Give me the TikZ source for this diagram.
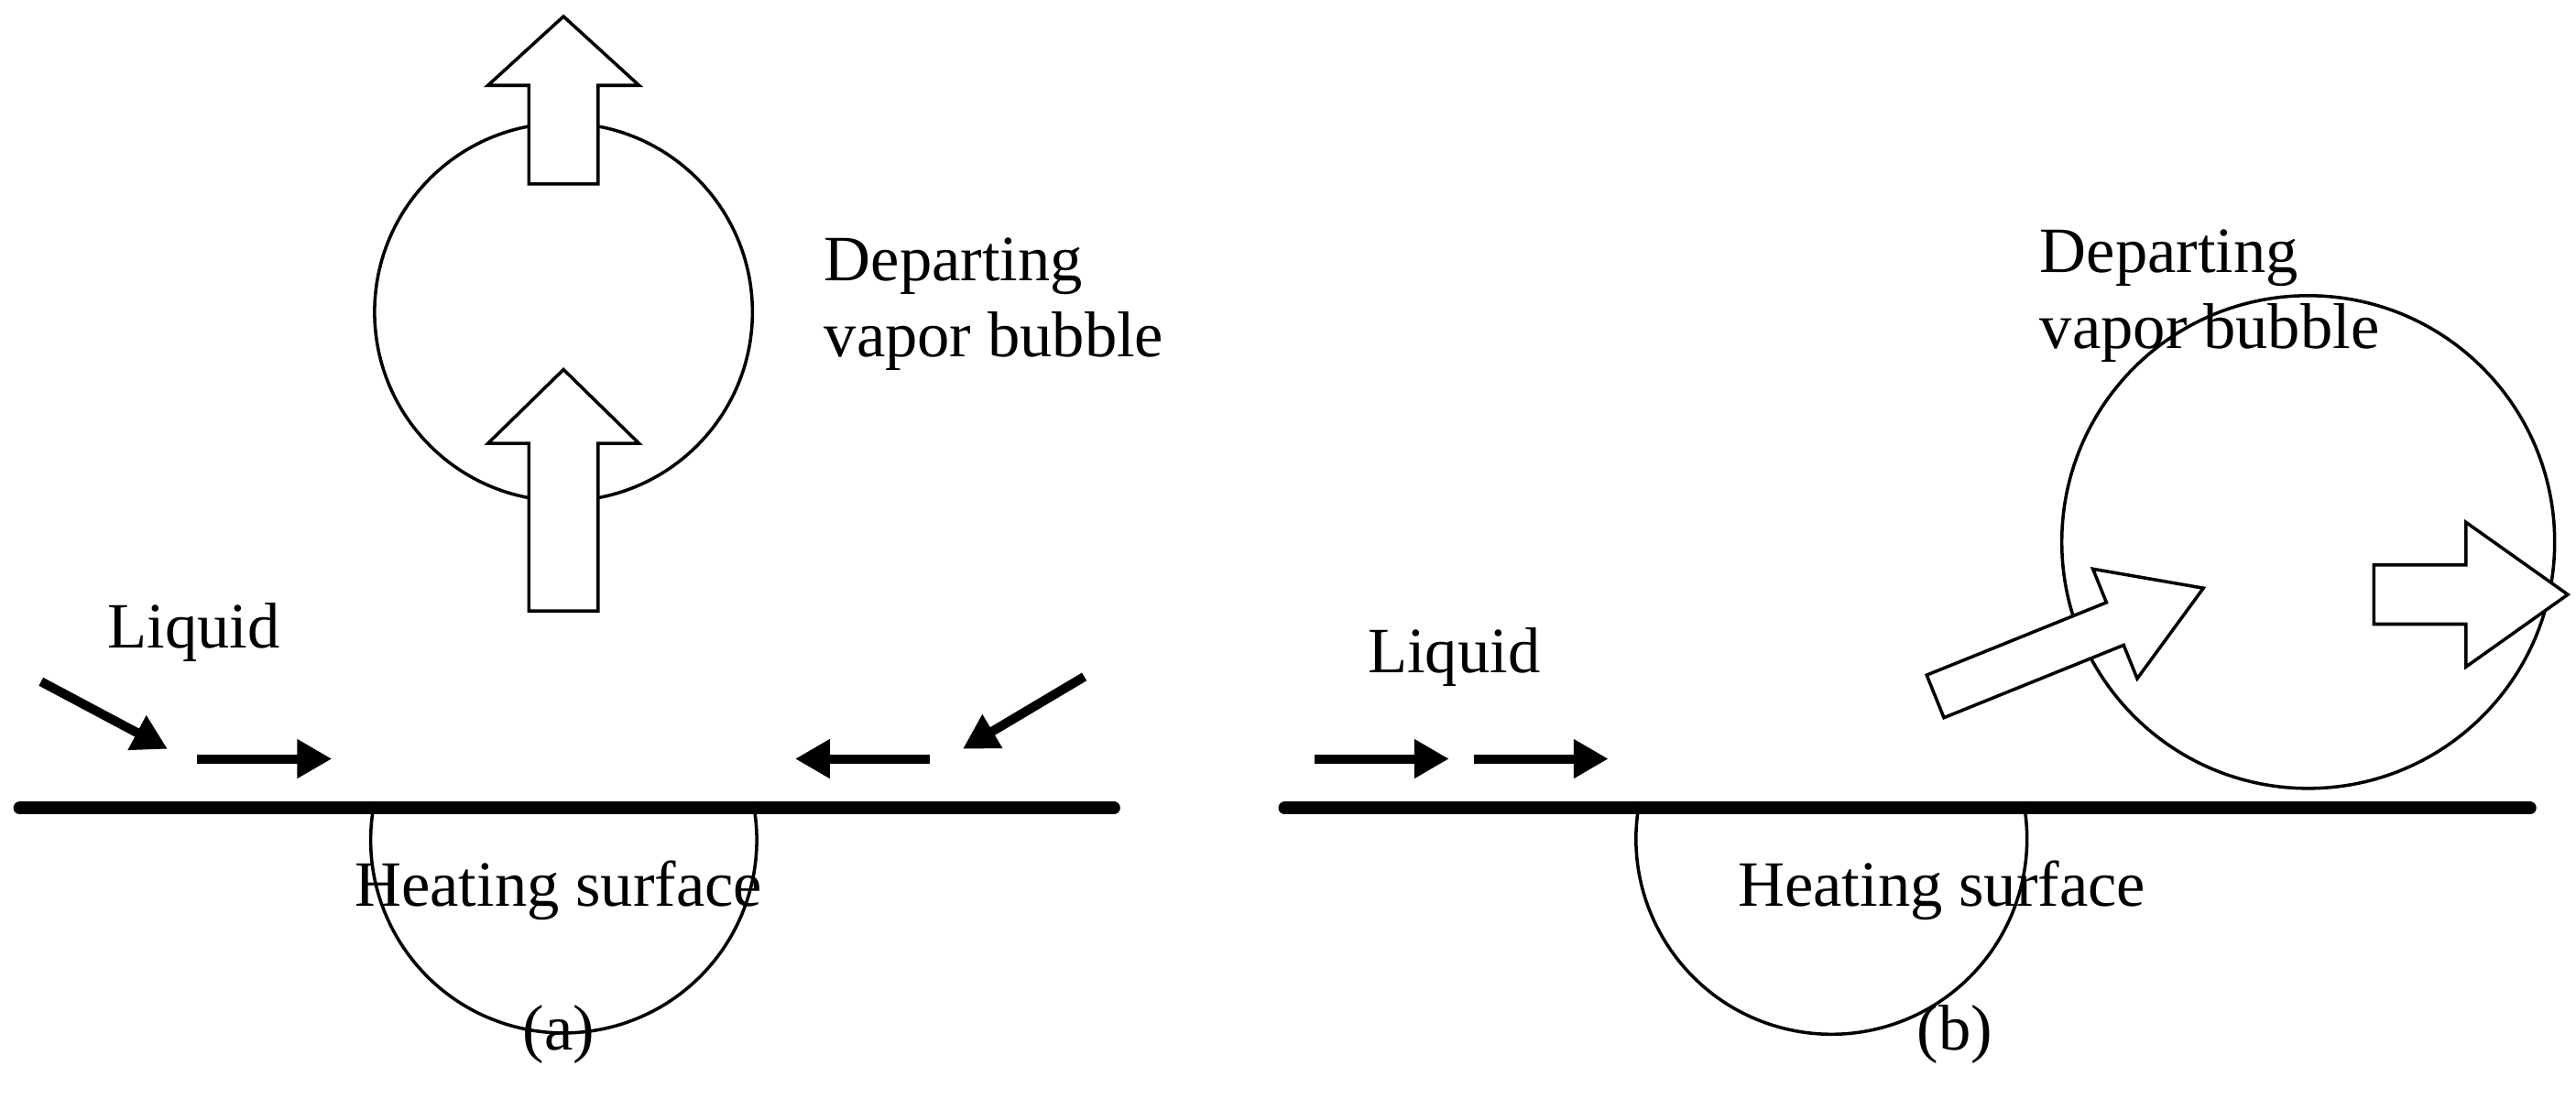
\documentclass[tikz,border=0pt]{standalone}
\usepackage{fontspec}
\setmainfont{Liberation Serif}
\usetikzlibrary{arrows.meta}
\begin{document}
\begin{tikzpicture}[x=0.05cm,y=-0.05cm,
  lbl/.style={font=\fontsize{56}{66}\selectfont,align=left,inner sep=0},
  surf/.style={line width=11pt,line cap=round},
  bub/.style={line width=2.8pt},
  fat/.style={line width=2.8pt,fill=white,line join=miter},
  small/.style={line width=8pt,-{Triangle[length=30pt,width=32pt]}}]
\useasboundingbox (0,0) rectangle (1568,669);
% (a)
\coordinate (as1) at (12,492); \coordinate (as2) at (678,492);
\draw[surf] (as1) -- (as2);
\draw[bub] (228,488) arc[start angle=191.5,end angle=-11.5,radius=117.5];
\draw[bub] (343,190) circle[radius=115];
\begin{scope}[shift={(343,372)},rotate=90]
\draw[fat] (0,-21)--(102,-21)--(102,-46)--(147,0)--(102,46)--(102,21)--(0,21)--cycle;
\end{scope}
\begin{scope}[shift={(343,112)},rotate=90]
\draw[fat] (0,-21)--(60,-21)--(60,-46)--(102,0)--(60,46)--(60,21)--(0,21)--cycle;
\end{scope}
\node[lbl] (adep) at (605,185) {Departing\\vapor bubble};
\node[lbl] (aliq) at (118,385) {Liquid};
\node[lbl] (ahs) at (340,542) {Heating surface};
\node[lbl] (acap) at (340,630) {(a)};
\coordinate (l1a) at (25,415); \coordinate (l1b) at (102,456);
\coordinate (l2a) at (120,462); \coordinate (l2b) at (202,462);
\coordinate (r2a) at (566,462); \coordinate (r2b) at (484,462);
\coordinate (r1a) at (660,412); \coordinate (r1b) at (586,456);
\draw[small] (l1a)--(l1b);
\draw[small] (l2a)--(l2b);
\draw[small] (r2a)--(r2b);
\draw[small] (r1a)--(r1b);
% (b)
\coordinate (bs1) at (782,492); \coordinate (bs2) at (1540,492);
\draw[surf] (bs1) -- (bs2);
\draw[bub] (998,488) arc[start angle=191,end angle=-11,radius=119];
\draw[bub] (1405,330) circle[radius=150];
\begin{scope}[shift={(1178,424)},rotate=22]
\draw[fat] (0,-14)--(118,-14)--(118,-36)--(176,0)--(118,36)--(118,14)--(0,14)--cycle;
\end{scope}
\begin{scope}[shift={(1445,362)}]
\draw[fat] (0,-18)--(56,-18)--(56,-44)--(118,0)--(56,44)--(56,18)--(0,18)--cycle;
\end{scope}
\node[lbl] (bdep) at (1345,180) {Departing\\vapor bubble};
\node[lbl] (bliq) at (885,400) {Liquid};
\node[lbl] (bhs) at (1182,542) {Heating surface};
\node[lbl] (bcap) at (1190,630) {(b)};
\coordinate (b1a) at (800,462); \coordinate (b1b) at (882,462);
\coordinate (b2a) at (897,462); \coordinate (b2b) at (979,462);
\draw[small] (b1a)--(b1b);
\draw[small] (b2a)--(b2b);
\end{tikzpicture}
\end{document}
